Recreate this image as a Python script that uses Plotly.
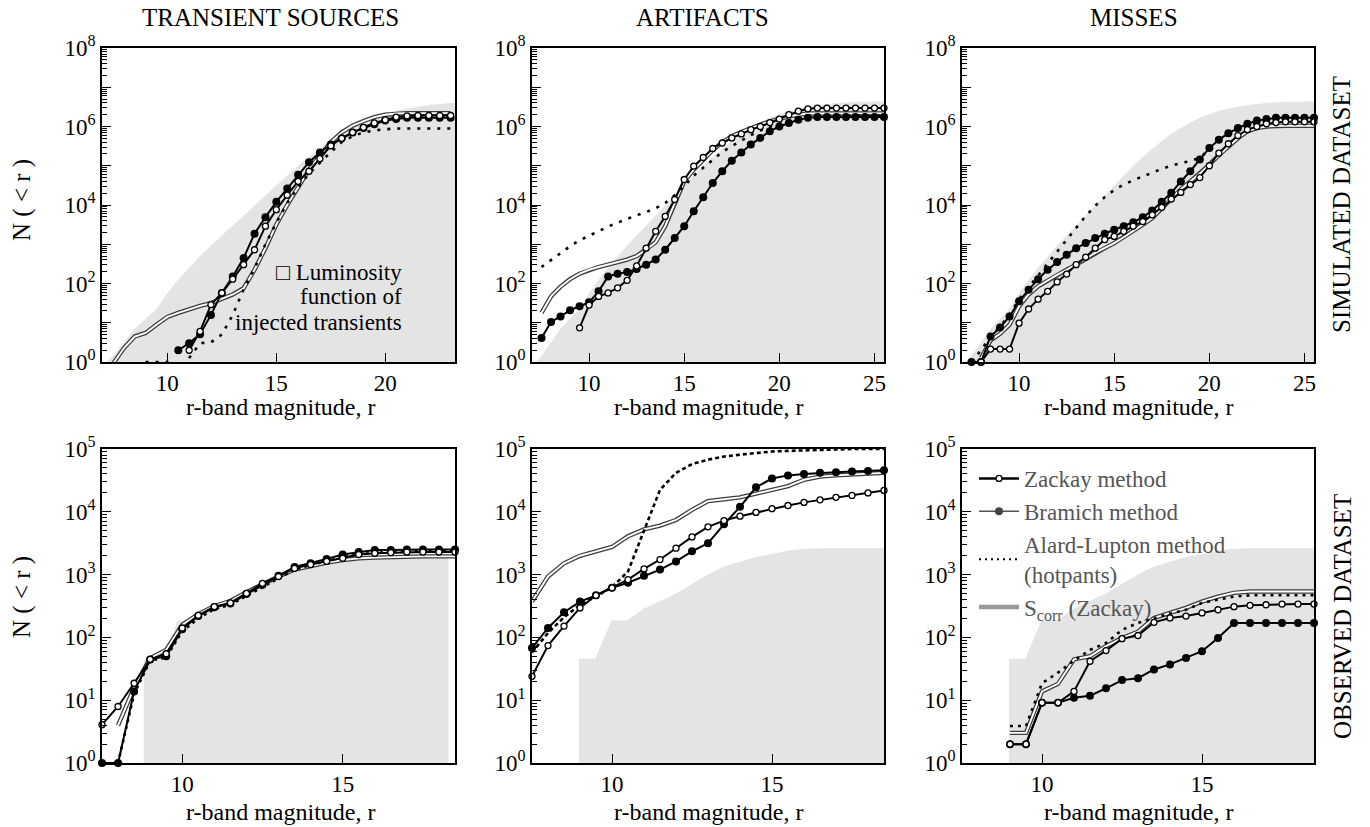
import plotly.graph_objects as go
from plotly.subplots import make_subplots

W, H = 1370, 827

# ---------------- data (values are log10 of the cumulative count N(<r)) ----------------
MAG_A = [7.5, 8.0, 8.5, 9.0, 9.5, 10.0, 10.5, 11.0, 11.5, 12.0, 12.5, 13.0, 13.5, 14.0, 14.5, 15.0,
         15.5, 16.0, 16.5, 17.0, 17.5, 18.0, 18.5, 19.0, 19.5, 20.0, 20.5, 21.0, 21.5, 22.0, 22.5, 23.0]
MAG_B = [7.5, 8.0, 8.5, 9.0, 9.5, 10.0, 10.5, 11.0, 11.5, 12.0, 12.5, 13.0, 13.5, 14.0, 14.5, 15.0,
         15.5, 16.0, 16.5, 17.0, 17.5, 18.0, 18.5, 19.0, 19.5, 20.0, 20.5, 21.0, 21.5, 22.0, 22.5, 23.0,
         23.5, 24.0, 24.5, 25.0, 25.5]
MAG_C = [7.5, 8.0, 8.5, 9.0, 9.5, 10.0, 10.5, 11.0, 11.5, 12.0, 12.5, 13.0, 13.5, 14.0, 14.5, 15.0,
         15.5, 16.0, 16.5, 17.0, 17.5, 18.0, 18.5]

# simulated dataset: transient sources
ts_sim_zackay = [None, None, None, None, None, None, None, 0.30, 0.78, 1.46, 1.76, 2.11, 2.48, 2.86, 3.46, 3.88,
                 4.25, 4.6, 4.86, 5.18, 5.51, 5.7, 5.85, 5.98, 6.09, 6.17, 6.24, 6.27, 6.28, 6.28, 6.28, 6.28]
ts_sim_bramich = [None, None, None, None, None, None, 0.30, 0.48, 0.71, 1.2, 1.76, 2.18, 2.65, 3.27, 3.69, 4.08,
                  4.42, 4.77, 5.09, 5.34, 5.54, 5.7, 5.85, 5.96, 6.06, 6.15, 6.19, 6.22, 6.22, 6.22, 6.22, 6.22]
ts_sim_alard = [None, None, None, 0, 0, 0, -0.5, 0.1, 0.48, 0.5, 0.7, 1.2, 1.85, 2.38, 3.0, 3.55,
                4.05, 4.45, 4.8, 5.08, 5.35, 5.6, 5.75, 5.85, 5.9, 5.93, 5.95, 5.95, 5.95, 5.95, 5.95, 5.95]
ts_sim_scorr = [-0.05, 0.35, 0.65, 0.74, 0.95, 1.15, 1.25, 1.35, 1.43, 1.5, 1.6, 1.72, 1.88, 2.35, 2.9, 3.5,
                4.0, 4.45, 4.9, 5.25, 5.6, 5.85, 6.02, 6.14, 6.24, 6.3, 6.33, 6.34, 6.34, 6.34, 6.34, 6.34]

# simulated dataset: artifacts
art_sim_zackay = [None, None, None, None, 0.87, 1.45, 1.67, 1.76, 1.89, 2.08, 2.45, 2.9, 3.33, 3.71, 4.14, 4.65,
                  4.99, 5.21, 5.44, 5.58, 5.71, 5.81, 5.92, 6.0, 6.1, 6.19, 6.3, 6.39, 6.45, 6.47, 6.47, 6.47,
                  6.47, 6.47, 6.47, 6.47, 6.47]
art_sim_bramich = [0.61, 1.02, 1.16, 1.32, 1.42, 1.52, 1.8, 2.18, 2.25, 2.29, 2.37, 2.48, 2.61, 2.86, 3.16, 3.46,
                   3.84, 4.2, 4.56, 4.86, 5.13, 5.34, 5.54, 5.71, 5.88, 6.0, 6.09, 6.17, 6.22, 6.24, 6.24, 6.24,
                   6.24, 6.24, 6.24, 6.24, 6.24]
art_sim_alard = [2.42, 2.6, 2.78, 2.95, 3.1, 3.22, 3.35, 3.45, 3.55, 3.65, 3.74, 3.82, 3.92, 4.05, 4.25, 4.48,
                 4.75, 4.95, 5.15, 5.35, 5.5, 5.65, 5.78, 5.9, 6.0, 6.08, 6.16, 6.22, 6.26, 6.28, 6.28, 6.28,
                 6.28, 6.28, 6.28, 6.28, 6.28]
art_sim_scorr = [1.25, 1.67, 1.92, 2.11, 2.25, 2.35, 2.42, 2.48, 2.54, 2.61, 2.7, 2.86, 3.05, 3.46, 4.05, 4.6,
                 4.9, 5.15, 5.4, 5.6, 5.75, 5.86, 5.96, 6.05, 6.13, 6.2, 6.26, 6.3, 6.33, 6.33, 6.33, 6.33,
                 6.33, 6.33, 6.33, 6.33, 6.33]

# simulated dataset: misses
miss_sim_zackay = [None, 0, 0.33, 0.33, 0.33, 0.99, 1.35, 1.6, 1.8, 2.04, 2.24, 2.48, 2.67, 2.9, 3.12, 3.2,
                   3.33, 3.46, 3.58, 3.75, 3.94, 4.15, 4.32, 4.52, 4.7, 5.0, 5.32, 5.56, 5.77, 5.92, 6.0, 6.07,
                   6.1, 6.12, 6.12, 6.12, 6.12]
miss_sim_bramich = [0, 0, 0.65, 0.88, 1.16, 1.55, 1.84, 2.11, 2.35, 2.55, 2.73, 2.9, 3.03, 3.16, 3.27, 3.37,
                    3.46, 3.56, 3.69, 3.86, 4.08, 4.31, 4.6, 4.86, 5.16, 5.45, 5.66, 5.83, 5.96, 6.07, 6.15, 6.19,
                    6.22, 6.22, 6.22, 6.22, 6.22]
miss_sim_alard = [0, 0.3, 0.65, 0.9, 1.2, 1.6, 1.9, 2.2, 2.5, 2.8, 3.1, 3.42, 3.72, 3.98, 4.2, 4.38,
                  4.52, 4.63, 4.73, 4.83, 4.92, 5.0, 5.07, 5.12, 5.2, 5.42, 5.63, 5.8, 5.93, 6.03, 6.1, 6.14,
                  6.16, 6.16, 6.16, 6.16, 6.16]
miss_sim_scorr = [None, 0.1, 0.55, 0.72, 0.95, 1.42, 1.72, 1.93, 2.08, 2.22, 2.35, 2.48, 2.63, 2.78, 2.9, 3.03,
                  3.18, 3.33, 3.5, 3.67, 3.92, 4.18, 4.4, 4.6, 4.8, 5.03, 5.27, 5.49, 5.7, 5.88, 5.96, 6.0,
                  6.02, 6.02, 6.02, 6.02, 6.02]

# luminosity function of injected transients (simulated)
lum_sim_mag = [7.2, 7.5, 8.0, 8.5, 9.0, 9.5, 10.0, 10.5, 11.0, 11.5, 12.0, 12.5, 13.0, 13.5, 14.0, 14.5, 15.0,
               15.5, 16.0, 16.5, 17.0, 17.5, 18.0, 18.5, 19.0, 19.5, 20.0, 20.5, 21.0, 21.5, 22.0, 23.0, 24.0, 25.5]
lum_sim = [0, 0.15, 0.5, 0.85, 1.1, 1.35, 1.75, 2.1, 2.4, 2.7, 2.97, 3.22, 3.47, 3.72, 3.98, 4.24, 4.5,
           4.75, 5.0, 5.22, 5.43, 5.63, 5.82, 5.97, 6.1, 6.22, 6.32, 6.4, 6.46, 6.51, 6.55, 6.6, 6.63, 6.64]

# observed dataset: transient sources
ts_obs_zackay = [0.61, 0.9, 1.27, 1.65, 1.74, 2.15, 2.35, 2.49, 2.55, 2.7, 2.86, 2.97, 3.1, 3.16, 3.21, 3.26,
                 3.32, 3.34, 3.35, 3.36, 3.36, 3.36, 3.36]
ts_obs_bramich = [0, 0, 1.14, 1.65, 1.7, 2.13, 2.34, 2.48, 2.54, 2.69, 2.84, 2.98, 3.12, 3.18, 3.25, 3.32,
                  3.36, 3.39, 3.39, 3.4, 3.4, 3.4, 3.4]
ts_obs_alard = [None, 0, 1.1, 1.63, 1.68, 2.1, 2.3, 2.45, 2.52, 2.66, 2.8, 2.95, 3.08, 3.15, 3.22, 3.28,
                3.32, 3.35, 3.36, 3.37, 3.37, 3.37, 3.37]
ts_obs_scorr = [None, 0.6, 1.2, 1.67, 1.8, 2.2, 2.37, 2.5, 2.58, 2.72, 2.85, 2.97, 3.08, 3.14, 3.19, 3.23,
                3.26, 3.27, 3.28, 3.28, 3.29, 3.29, 3.29]
lum_ts_obs_mag = [8.8, 9.45, 9.85, 10.3, 11.0, 11.5, 12.0, 12.5, 13.0, 13.5, 14.0, 14.5, 15.0, 15.5, 16.0, 18.3]
lum_ts_obs = [1.65, 1.65, 2.27, 2.27, 2.47, 2.6, 2.72, 2.85, 3.0, 3.1, 3.17, 3.22, 3.26, 3.28, 3.29, 3.29]

# observed dataset: artifacts
art_obs_zackay = [1.38, 1.87, 2.18, 2.47, 2.67, 2.79, 2.92, 3.09, 3.24, 3.42, 3.6, 3.76, 3.86, 3.93, 3.99, 4.05,
                  4.1, 4.15, 4.19, 4.23, 4.26, 4.3, 4.34]
art_obs_bramich = [1.83, 2.15, 2.4, 2.57, 2.67, 2.79, 2.87, 2.98, 3.08, 3.21, 3.37, 3.5, 3.8, 4.08, 4.39, 4.53,
                   4.58, 4.6, 4.62, 4.63, 4.64, 4.65, 4.66]
art_obs_alard = [1.76, 2.07, 2.32, 2.52, 2.65, 2.8, 3.05, 3.7, 4.35, 4.62, 4.76, 4.83, 4.88, 4.91, 4.94, 4.96,
                 4.97, 4.98, 4.99, 4.99, 5.0, 5.0, 5.0]
art_obs_scorr = [2.57, 2.97, 3.18, 3.3, 3.37, 3.44, 3.61, 3.72, 3.78, 3.87, 4.03, 4.17, 4.2, 4.23, 4.29, 4.35,
                 4.41, 4.51, 4.56, 4.58, 4.59, 4.6, 4.62]

# observed dataset: misses
miss_obs_zackay = [None, None, None, 0.3, 0.3, 0.96, 0.96, 1.14, 1.62, 1.79, 1.98, 2.03, 2.24, 2.31, 2.34, 2.39,
                   2.44, 2.49, 2.51, 2.52, 2.53, 2.53, 2.53]
miss_obs_bramich = [None, None, None, 0.3, 0.3, 0.96, 0.96, 1.04, 1.07, 1.19, 1.32, 1.35, 1.49, 1.57, 1.67, 1.78,
                    1.99, 2.23, 2.23, 2.23, 2.23, 2.23, 2.23]
miss_obs_alard = [None, None, None, 0.59, 0.59, 1.27, 1.44, 1.63, 1.8, 1.91, 2.12, 2.23, 2.31, 2.38, 2.44, 2.55,
                  2.6, 2.65, 2.67, 2.67, 2.67, 2.67, 2.67]
miss_obs_scorr = [None, None, None, 0.48, 0.48, 1.14, 1.26, 1.65, 1.7, 1.86, 1.99, 2.09, 2.31, 2.39, 2.47, 2.57,
                  2.65, 2.71, 2.73, 2.73, 2.73, 2.73, 2.73]

# luminosity function used in observed artifacts / misses panels
lum_obs_mag = [8.97, 9.48, 9.98, 10.47, 11.0, 11.5, 12.0, 12.5, 13.0, 13.5, 14.0, 14.5, 15.0, 15.5, 16.0, 16.5, 18.5]
lum_obs = [1.66, 1.66, 2.27, 2.27, 2.46, 2.58, 2.7, 2.85, 3.0, 3.13, 3.21, 3.28, 3.33, 3.38, 3.41, 3.42, 3.42]

COL_TITLES = ["TRANSIENT SOURCES", "ARTIFACTS", "MISSES"]
ROW_TITLES = ["SIMULATED DATASET", "OBSERVED DATASET"]
TOP_YTICKS = [1e0, 1e1, 1e2, 1e3, 1e4, 1e5, 1e6, 1e7, 1e8]
TOP_YTEXT = ["10<sup>0</sup>", "", "10<sup>2</sup>", "", "10<sup>4</sup>", "", "10<sup>6</sup>", "", "10<sup>8</sup>"]
BOT_YTICKS = [1e0, 1e1, 1e2, 1e3, 1e4, 1e5]
BOT_YTEXT = ["10<sup>0</sup>", "10<sup>1</sup>", "10<sup>2</sup>", "10<sup>3</sup>", "10<sup>4</sup>", "10<sup>5</sup>"]

# ---------------- styling / layout ----------------
FONT = "Liberation Serif"
GRAY = "#e4e4e4"
BASE = 0.1  # floor of the filled area polygon, below the visible range


def lin(vals):
    return [None if v is None else 10 ** v for v in vals]


fig = make_subplots(rows=2, cols=3)


def add_panel(r, c, grid, zackay, bramich, alard, scorr, gx, gy, dot):
    fig.add_trace(go.Scatter(x=list(gx) + [gx[-1], gx[0]], y=lin(gy) + [BASE, BASE], fill="toself",
                             fillcolor=GRAY, line=dict(width=0), mode="lines", hoverinfo="skip",
                             showlegend=False), row=r, col=c)
    fig.add_trace(go.Scatter(x=grid, y=lin(scorr), mode="lines", line=dict(color="#3c3c3c", width=4.4),
                             showlegend=False), row=r, col=c)
    fig.add_trace(go.Scatter(x=grid, y=lin(scorr), mode="lines", line=dict(color="white", width=1.9),
                             showlegend=False), row=r, col=c)
    fig.add_trace(go.Scatter(x=grid, y=lin(alard), mode="lines",
                             line=dict(color="black", width=2.6, dash=dot), showlegend=False), row=r, col=c)
    fig.add_trace(go.Scatter(x=grid, y=lin(bramich), mode="lines+markers", line=dict(color="black", width=2),
                             marker=dict(color="black", size=8), cliponaxis=False, showlegend=False),
                  row=r, col=c)
    fig.add_trace(go.Scatter(x=grid, y=lin(zackay), mode="lines+markers", line=dict(color="black", width=2),
                             marker=dict(color="white", size=6, line=dict(color="black", width=1.3)),
                             cliponaxis=False, showlegend=False), row=r, col=c)


add_panel(1, 1, MAG_A, ts_sim_zackay, ts_sim_bramich, ts_sim_alard, ts_sim_scorr, lum_sim_mag, lum_sim, "3px,7px")
add_panel(1, 2, MAG_B, art_sim_zackay, art_sim_bramich, art_sim_alard, art_sim_scorr, lum_sim_mag, lum_sim, "3px,7px")
add_panel(1, 3, MAG_B, miss_sim_zackay, miss_sim_bramich, miss_sim_alard, miss_sim_scorr, lum_sim_mag, lum_sim, "3px,7px")
add_panel(2, 1, MAG_C, ts_obs_zackay, ts_obs_bramich, ts_obs_alard, ts_obs_scorr, lum_ts_obs_mag, lum_ts_obs, "3px,4px")
add_panel(2, 2, MAG_C, art_obs_zackay, art_obs_bramich, art_obs_alard, art_obs_scorr, lum_obs_mag, lum_obs, "4px,3px")
add_panel(2, 3, MAG_C, miss_obs_zackay, miss_obs_bramich, miss_obs_alard, miss_obs_scorr, lum_obs_mag, lum_obs, "3px,5px")

# legend entries
fig.add_trace(go.Scatter(x=[None], y=[None], mode="lines+markers", name="Zackay method",
                         line=dict(color="black", width=2.5),
                         marker=dict(color="white", size=6, line=dict(color="black", width=1.3))), row=2, col=3)
fig.add_trace(go.Scatter(x=[None], y=[None], mode="lines+markers", name="Bramich method",
                         line=dict(color="#555555", width=1.5), marker=dict(color="#444444", size=8)), row=2, col=3)
fig.add_trace(go.Scatter(x=[None], y=[None], mode="lines", name="Alard-Lupton method<br>(hotpants)",
                         line=dict(color="black", width=2, dash="2px,4px")), row=2, col=3)
fig.add_trace(go.Scatter(x=[None], y=[None], mode="lines", name="S<sub>corr</sub> (Zackay)",
                         line=dict(color="#999999", width=4.5)), row=2, col=3)

X_DOM = [[102 / W, 455 / W], [532 / W, 884 / W], [962 / W, 1314 / W]]
Y_DOM = [[1 - 362 / H, 1 - 48 / H], [1 - 763 / H, 1 - 449 / H]]
X_RANGE = {(1, 1): [7.0, 23.2], (1, 2): [7.0, 25.5], (1, 3): [7.0, 25.5],
           (2, 1): [7.5, 18.5], (2, 2): [7.5, 18.5], (2, 3): [7.5, 18.5]}
X_TICKS = {(1, 1): [10, 15, 20], (1, 2): [10, 15, 20, 25], (1, 3): [10, 15, 20, 25],
           (2, 1): [10, 15], (2, 2): [10, 15], (2, 3): [10, 15]}

axis_style = dict(showline=True, linecolor="black", linewidth=1.5, mirror=True, ticks="inside",
                  ticklen=9, tickwidth=1.2, tickcolor="black", showgrid=False, zeroline=False,
                  automargin=False, tickfont=dict(size=23, family=FONT, color="black"))

layout_axes = {}
for r in (1, 2):
    for c in (1, 2, 3):
        idx = (r - 1) * 3 + c
        xs = "xaxis" if idx == 1 else f"xaxis{idx}"
        ys = "yaxis" if idx == 1 else f"yaxis{idx}"
        layout_axes[xs] = dict(domain=X_DOM[c - 1], range=X_RANGE[(r, c)], tickmode="array",
                               tickvals=X_TICKS[(r, c)], **axis_style)
        if r == 1:
            ymax, tv, tt = 8, TOP_YTICKS, TOP_YTEXT
        else:
            ymax, tv, tt = 5, BOT_YTICKS, BOT_YTEXT
        minor_vals = [m * 10 ** k for k in range(ymax) for m in range(2, 10)]
        layout_axes[ys] = dict(domain=Y_DOM[r - 1], type="log", range=[0, ymax], tickmode="array",
                               tickvals=tv, ticktext=tt,
                               minor=dict(tickmode="array", tickvals=minor_vals, ticks="inside",
                                          ticklen=5, tickwidth=1, tickcolor="black", showgrid=False),
                               **axis_style)
fig.update_layout(**layout_axes)

ann = []
col_centers = [270, 702, 1134]
for c, t in enumerate(COL_TITLES):
    ann.append(dict(text=t, x=col_centers[c] / W, y=1 - 18 / H, xref="paper", yref="paper",
                    showarrow=False, font=dict(size=25, family=FONT), xanchor="center", yanchor="middle"))
for cx in (280, 708, 1138):
    for cy in (407, 812):
        ann.append(dict(text="r-band magnitude, r", x=cx / W, y=1 - cy / H, xref="paper", yref="paper",
                        showarrow=False, font=dict(size=24, family=FONT), xanchor="center", yanchor="middle"))
for cy in (200, 597):
    ann.append(dict(text="N ( &lt; r )", x=22 / W, y=1 - cy / H, xref="paper", yref="paper", textangle=-90,
                    showarrow=False, font=dict(size=25, family=FONT), xanchor="center", yanchor="middle"))
for t, cy in zip(ROW_TITLES, (205, 617)):
    ann.append(dict(text=t, x=1342 / W, y=1 - cy / H, xref="paper", yref="paper", textangle=-90,
                    showarrow=False, font=dict(size=25, family=FONT), xanchor="center", yanchor="middle"))
for t, cy in (("□ Luminosity", 272), ("function of", 297), ("injected transients", 322)):
    ann.append(dict(text=t, x=404 / W, y=1 - cy / H, xref="paper", yref="paper", showarrow=False,
                    font=dict(size=23, family=FONT), xanchor="right", yanchor="middle"))

fig.update_layout(
    width=W, height=H, margin=dict(l=0, r=0, t=0, b=0, autoexpand=False),
    paper_bgcolor="white", plot_bgcolor="white",
    font=dict(family=FONT, size=23, color="black"),
    annotations=ann,
    showlegend=True,
    legend=dict(x=974 / W, y=1 - 457 / H, xanchor="left", yanchor="top", bgcolor="rgba(0,0,0,0)",
                font=dict(size=23, color="#555555", family=FONT), itemwidth=40, tracegroupgap=0,
                traceorder="normal"),
)

fig.write_html("out.html", post_script="document.body.style.margin='0';",
               config={"displayModeBar": False})
